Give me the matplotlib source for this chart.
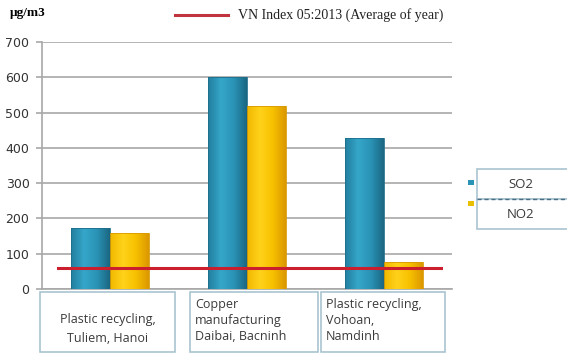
import numpy as np
import matplotlib.pyplot as plt
from matplotlib.patches import Rectangle
from matplotlib.lines import Line2D
from matplotlib.colors import LinearSegmentedColormap

sites = ['Plastic recycling,\nTuliem, Hanoi',
         'Copper\nmanufacturing\nDaibai, Bacninh',
         'Plastic recycling,\nVohoan,\nNamdinh']
so2 = [172, 600, 427]
no2 = [158, 518, 76]
vn_index = 60
series_names = ['SO2', 'NO2']
index_label = 'VN Index 05:2013 (Average of year)'
yticks = [0, 100, 200, 300, 400, 500, 600, 700]

W, H = 567, 356
fig = plt.figure(figsize=(W / 100, H / 100), dpi=100)
ax = fig.add_axes([42 / W, 1 - 289 / H, 410 / W, 247 / H])

x = np.arange(len(sites))
bw = 0.285
so2_cmap = LinearSegmentedColormap.from_list('so2', ['#237f9f', '#35a6c9', '#2a93b6', '#1b6783'])
no2_cmap = LinearSegmentedColormap.from_list('no2', ['#f2b800', '#ffd21a', '#f7c100', '#dc9800'])
grad = np.linspace(0, 1, 64).reshape(1, -1)
for xs, vals, cmap, ec in [(x - bw / 2, so2, so2_cmap, '#1d6f8c'),
                           (x + bw / 2, no2, no2_cmap, '#d99a00')]:
    bars = ax.bar(xs, vals, bw, color='none', edgecolor=ec, linewidth=0.6, zorder=3)
    for b in bars:
        x0, y0 = b.get_x(), b.get_y()
        im = ax.imshow(grad, cmap=cmap, aspect='auto', zorder=2.9,
                       extent=[x0, x0 + b.get_width(), y0, y0 + b.get_height()])
        im.set_clip_path(b)
ax.plot([-0.38, 2.42], [vn_index, vn_index], color='#cc1f2e', linewidth=2.2, zorder=4)

ax.set_xlim(-0.5, 2.5)
ax.set_ylim(0, 700)
ax.set_yticks(yticks)
ax.set_yticklabels([str(v) for v in yticks], fontsize=9, color='#333333')
ax.set_xticks([])
ax.tick_params(axis='y', length=4, color='#a8a8a8', width=1.2, pad=5)
ax.grid(axis='y', color='#a8a8a8', linewidth=1.2, zorder=0)
for s in ['top', 'right']:
    ax.spines[s].set_visible(False)
ax.spines['left'].set_color('#a8a8a8')
ax.spines['bottom'].set_color('#a8a8a8')
ax.spines['left'].set_linewidth(1.2)
ax.spines['bottom'].set_linewidth(1.2)

# category label boxes
boxes = [(40, 175, 'center'), (190, 318, 'left'), (321, 445, 'left')]
for (x0, x1, ha), lab in zip(boxes, sites):
    fig.patches.append(Rectangle((x0 / W, 1 - 352 / H), (x1 - x0) / W, 60 / H,
                                 transform=fig.transFigure, facecolor='white',
                                 edgecolor='#a9c4cf', linewidth=1.2))
    if ha == 'center':
        fig.text((x0 + x1) / 2 / W, 1 - 329 / H, lab, ha='center', va='center',
                 fontsize=9, family='Open Sans', color='#3a3a3a', linespacing=1.6)
    else:
        fig.text((x0 + 5) / W, 1 - 298 / H, lab, ha='left', va='top',
                 fontsize=9, family='Open Sans', color='#3a3a3a', linespacing=1.3)

# unit label and index legend
fig.text(10 / W, 1 - 13 / H, 'µg/m3', fontsize=9.5, family='Liberation Serif',
         fontweight='bold', va='center')
fig.add_artist(Line2D([175 / W, 228 / W], [1 - 15 / H, 1 - 15 / H],
                      color='#c0343f', linewidth=2.2, transform=fig.transFigure))
fig.text(238 / W, 1 - 15 / H, index_label, fontsize=10, family='Liberation Serif',
         va='center', color='#222222')

# series legend
colors = ['#2b93b6', '#e8c000']
for i, (name, c) in enumerate(zip(series_names, colors)):
    y0 = 169 + i * 30
    fig.patches.append(Rectangle((477 / W, 1 - (y0 + 30) / H), 95 / W, 30 / H,
                                 transform=fig.transFigure, facecolor='white',
                                 edgecolor='#a9c4cf', linewidth=1.2))
    fig.text(521 / W, 1 - (y0 + 15) / H, name, ha='center', va='center',
             fontsize=9.5, family='Open Sans', color='#3a3a3a')
    fig.patches.append(Rectangle((468 / W, 1 - (180 + i * 21 + 5) / H), 6 / W, 5 / H,
                                 transform=fig.transFigure, facecolor=c,
                                 edgecolor='none'))
fig.add_artist(Line2D([477 / W, 567 / W], [1 - 199 / H, 1 - 199 / H], color='#4a6f85',
                      linewidth=1, linestyle=(0, (3, 2)), transform=fig.transFigure))

fig.savefig('out.png', dpi=100)
